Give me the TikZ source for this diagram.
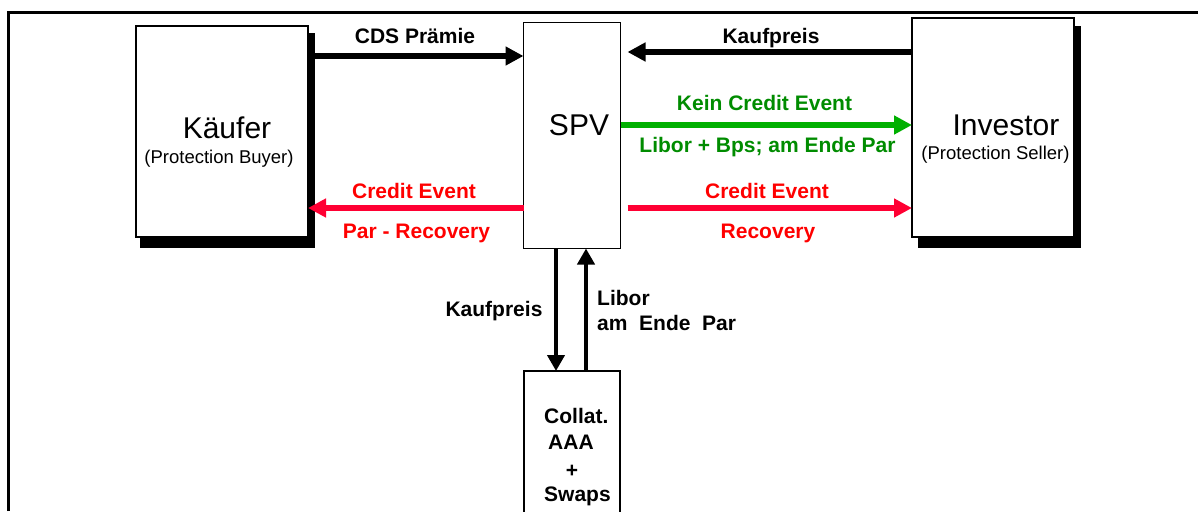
\documentclass[tikz,border=0pt]{standalone}
\usepackage{fontspec}
\setmainfont{Liberation Sans}
\usetikzlibrary{arrows.meta,calc}
\definecolor{arrgreen}{RGB}{0,176,0}
\definecolor{txtgreen}{RGB}{0,140,0}
\definecolor{arrred}{RGB}{255,0,51}
\definecolor{txtred}{RGB}{255,0,0}
\begin{document}
\begin{tikzpicture}[x=1pt,y=-1pt,
 box/.style={draw, line width=1.5pt, fill=white, inner sep=0pt, outer sep=0pt},
 lbl/.style={font=\fontsize{21}{25}\selectfont\bfseries, inner sep=0pt, anchor=base},
 lblw/.style={font=\fontsize{21}{25}\selectfont\bfseries, inner sep=0pt, anchor=base west},
 big/.style={font=\fontsize{30}{34}\selectfont, inner sep=0pt, anchor=base},
 small/.style={font=\fontsize{18.5}{22}\selectfont, inner sep=0pt},
 harrow/.style={line width=5.5pt, -{Triangle[length=18pt,width=18pt]}},
 varrow/.style={line width=4.7pt, -{Triangle[length=16pt,width=17pt]}}
]
\useasboundingbox (0,0) rectangle (1198,511);
\clip (0,0) rectangle (1198,511);
\fill[white] (0,0) rectangle (1198,511);
% frame
\draw[line width=3pt] (8,511) -- (8,13) -- (1198,13);

% boxes
\node[box, minimum width=172pt, minimum height=211pt] (kaeufer) at (222,131.5) {};
\node[box, minimum width=97pt, minimum height=226pt] (spv) at (572,135.5) {};
\node[box, minimum width=162pt, minimum height=219pt] (investor) at (993,127.5) {};
% shadows
\fill[black] ($(kaeufer.south west)+(4,11)$) rectangle ($(kaeufer.north east)+(7,7)$);
\fill[black] ($(investor.south west)+(6,11)$) rectangle ($(investor.north east)+(7,8)$);
\node[box, minimum width=172pt, minimum height=211pt] (kaeuferb) at (222,131.5) {};
\node[box, minimum width=162pt, minimum height=219pt] (investorb) at (993,127.5) {};
\node[box, minimum width=96pt, minimum height=159pt] (collat) at (572,450.5) {};

% box texts
\node[big] (tk) at (227,138) {Käufer};
\node[small] (tkb) at (219,159) {(Protection Buyer)};
\node[big] (ts) at (579,135) {SPV};
\node[big] (ti) at (1006,135) {Investor};
\node[small] (tis) at (995.5,155) {(Protection Seller)};
\node[lblw] (c1) at (544,423.3) {Collat.};
\node[lblw] (c2) at (548,449) {AAA};
\node[lbl] (c3) at (572,477) {+};
\node[lblw] (c4) at (544,501.7) {Swaps};

% helper coordinates
\coordinate (yA) at (0,56);
\coordinate (yB) at (0,52);
\coordinate (yC) at (0,125);
\coordinate (yD) at (0,208);
\coordinate (xE) at (556,0);
\coordinate (xF) at (586,0);

% arrows
\draw[harrow] (kaeuferb.east |- yA) -- (spv.west |- yA);
\draw[harrow, shorten >=7pt] (investorb.west |- yB) -- (spv.east |- yB);
\draw[harrow, arrgreen] (spv.east |- yC) -- (investorb.west |- yC);
\draw[harrow, arrred] (spv.west |- yD) -- (kaeuferb.east |- yD);
\draw[harrow, arrred, shorten <=7pt] (spv.east |- yD) -- (investorb.west |- yD);
\draw[varrow] (spv.south -| xE) -- (collat.north -| xE);
\draw[varrow] (collat.north -| xF) -- (spv.south -| xF);

% labels
\node[lbl] (lcds) at (415,43.3) {CDS Prämie};
\node[lbl] (lkp) at (771,43.5) {Kaufpreis};
\node[lbl, txtgreen] (lkce) at (764.5,110.7) {Kein Credit Event};
\node[lbl, txtgreen] (llib) at (767.5,152.7) {Libor + Bps; am Ende Par};
\node[lbl, txtred] (lce1) at (414,198.3) {Credit Event};
\node[lbl, txtred] (lpr) at (416.5,238.3) {Par - Recovery};
\node[lbl, txtred] (lce2) at (767,198.3) {Credit Event};
\node[lbl, txtred] (lrec) at (768,238.3) {Recovery};
\node[lbl] (lkp2) at (494,316.7) {Kaufpreis};
\node[lblw] (llib2) at (597,305) {Libor};
\node[lblw] (lend) at (597,330.7) {am\ \ Ende\ \ Par};
\end{tikzpicture}
\end{document}
